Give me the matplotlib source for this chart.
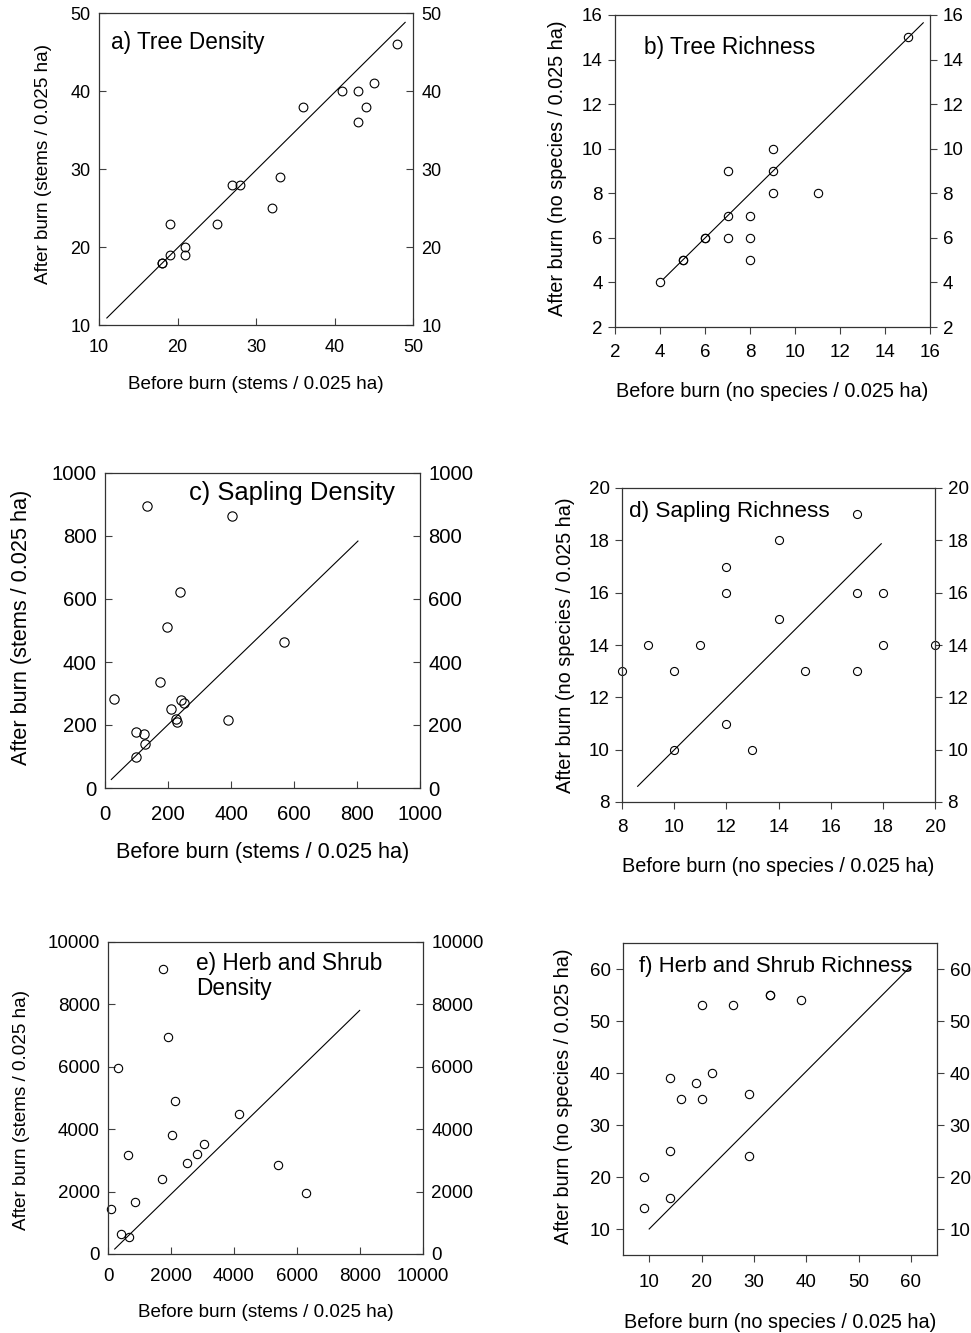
import matplotlib
matplotlib.use("Agg")
import matplotlib.pyplot as plt

plt.rcParams['font.family'] = ['Liberation Sans', 'DejaVu Sans']

# a) tree density
tree_den_before = [48, 41, 43, 45, 44, 43, 36, 33, 32, 27, 28, 25, 19, 21, 21, 19, 18, 18]
tree_den_after = [46, 40, 40, 41, 38, 36, 38, 29, 25, 28, 28, 23, 23, 20, 19, 19, 18, 18]
tree_den_line_x = [11, 49]
tree_den_line_y = [10.9, 48.8]

# b) tree richness
tree_rich_before = [15, 4, 5, 5, 6, 6, 7, 7, 7, 8, 8, 8, 9, 9, 9, 11]
tree_rich_after = [15, 4, 5, 5, 6, 6, 7, 9, 6, 7, 6, 5, 10, 9, 8, 8]
tree_rich_line_x = [4.15, 15.7]
tree_rich_line_y = [4.15, 15.65]

# c) sapling density
sap_den_before = [134, 403, 239, 196, 569, 176, 29, 211, 240, 250, 225, 230, 389, 98, 123, 126, 99]
sap_den_after = [896, 862, 621, 511, 463, 336, 284, 250, 278, 270, 218, 211, 215, 178, 172, 139, 97]
sap_den_line_x = [20, 803]
sap_den_line_y = [27, 784]

# d) sapling richness
sap_rich_before = [17, 14, 12, 12, 17, 18, 14, 9, 11, 18, 20, 8, 10, 15, 17, 12, 10, 13]
sap_rich_after = [19, 18, 17, 16, 16, 16, 15, 14, 14, 14, 14, 13, 13, 13, 13, 11, 10, 10]
sap_rich_line_x = [8.6, 17.94]
sap_rich_line_y = [8.6, 17.87]

# e) herb and shrub density
herb_den_before = [1745, 1915, 319, 2138, 4160, 2021, 3032, 2819, 2511, 649, 1702, 5383, 6298, 851, 96, 415, 660]
herb_den_after = [9134, 6952, 5947, 4898, 4492, 3829, 3540, 3219, 2920, 3187, 2406, 2856, 1947, 1668, 1433, 631, 545]
herb_den_line_x = [213, 7989]
herb_den_line_y = [160, 7807]

# f) herb and shrub richness
herb_rich_before = [20, 26, 33, 33, 39, 14, 22, 19, 16, 20, 29, 14, 29, 9, 9, 14]
herb_rich_after = [53, 53, 55, 55, 54, 39, 40, 38, 35, 35, 36, 25, 24, 20, 14, 16]
herb_rich_line_x = [10, 60]
herb_rich_line_y = [10, 60.5]

STEMS_X = 'Before burn (stems / 0.025 ha)'
STEMS_Y = 'After burn (stems / 0.025 ha)'
SPP_X = 'Before burn (no species / 0.025 ha)'
SPP_Y = 'After burn (no species / 0.025 ha)'

W, H = 971, 1333
fig = plt.figure(figsize=(W / 100, H / 100), dpi=100)


def box(l, t, r, b):
    return [l / W, 1 - b / H, (r - l) / W, (b - t) / H]


panels = [
    dict(rect=box(99, 13, 413, 325), x=tree_den_before, y=tree_den_after,
         lx=tree_den_line_x, ly=tree_den_line_y, lim=(10, 50), ticks=range(10, 51, 10),
         title='a) Tree Density', tpos=(0.037, 0.904), tsize=16.3,
         xl=STEMS_X, yl=STEMS_Y, fs=13.6, ts=13, tdir='in', xpad=10,
         xlpos=(0.5, -0.192), ylpos=(-0.178, 0.516), ms=6.3),
    dict(rect=box(615, 15, 930, 327), x=tree_rich_before, y=tree_rich_after,
         lx=tree_rich_line_x, ly=tree_rich_line_y, lim=(2, 16), ticks=range(2, 17, 2),
         title='b) Tree Richness', tpos=(0.092, 0.897), tsize=16.3,
         xl=SPP_X, yl=SPP_Y, fs=14.3, ts=13.5, tdir='out', xpad=7.5,
         xlpos=(0.5, -0.208), ylpos=(-0.184, 0.51), ms=6.0),
    dict(rect=box(105, 473, 420, 788), x=sap_den_before, y=sap_den_after,
         lx=sap_den_line_x, ly=sap_den_line_y, lim=(0, 1000), ticks=range(0, 1001, 200),
         title='c) Sapling Density', tpos=(0.267, 0.937), tsize=18.4,
         xl=STEMS_X, yl=STEMS_Y, fs=15.6, ts=14.6, tdir='in', xpad=12.5,
         xlpos=(0.5, -0.206), ylpos=(-0.265, 0.511), ms=6.7),
    dict(rect=box(622, 488, 935, 802), x=sap_rich_before, y=sap_rich_after,
         lx=sap_rich_line_x, ly=sap_rich_line_y, lim=(8, 20), ticks=range(8, 21, 2),
         title='d) Sapling Richness', tpos=(0.022, 0.924), tsize=16.2,
         xl=SPP_X, yl=SPP_Y, fs=14.3, ts=13.5, tdir='out', xpad=7.5,
         xlpos=(0.5, -0.204), ylpos=(-0.182, 0.5), ms=5.8),
    dict(rect=box(108, 942, 423, 1254), x=herb_den_before, y=herb_den_after,
         lx=herb_den_line_x, ly=herb_den_line_y, lim=(0, 10000), ticks=range(0, 10001, 2000),
         title='e) Herb and Shrub\nDensity', tpos=(0.28, 0.891), tsize=16.3,
         xl=STEMS_X, yl=STEMS_Y, fs=13.6, ts=13.5, tdir='in', xpad=10,
         xlpos=(0.5, -0.189), ylpos=(-0.275, 0.46), ms=6.0),
    dict(rect=box(623, 943, 937, 1255), x=herb_rich_before, y=herb_rich_after,
         lx=herb_rich_line_x, ly=herb_rich_line_y, lim=(5, 65), ticks=range(10, 61, 10),
         title='f) Herb and Shrub Richness', tpos=(0.05, 0.926), tsize=15.9,
         xl=SPP_X, yl=SPP_Y, fs=14.3, ts=13.5, tdir='out', xpad=9,
         xlpos=(0.5, -0.215), ylpos=(-0.19, 0.51), ms=6.0),
]

for p in panels:
    ax = fig.add_axes(p['rect'])
    ax.plot(p['lx'], p['ly'], color='black', lw=0.8)
    ax.plot(p['x'], p['y'], linestyle='none', marker='o', ms=p['ms'],
            mfc='none', mec='black', mew=0.8, clip_on=False)
    ax.set_xlim(p['lim'])
    ax.set_ylim(p['lim'])
    ax.set_xticks(list(p['ticks']))
    ax.set_yticks(list(p['ticks']))
    ax.tick_params(direction=p['tdir'], length=5, width=0.8, color='0.25',
                   labelsize=p['ts'], pad=6 if p['tdir'] == 'in' else 4,
                   right=True, labelright=True)
    ax.tick_params(axis='x', pad=p['xpad'])
    for s in ax.spines.values():
        s.set_linewidth(0.9)
        s.set_color('0.2')
    ax.text(p['tpos'][0], p['tpos'][1], p['title'], transform=ax.transAxes,
            fontsize=p['tsize'], ha='left', va='center', linespacing=1.1)
    ax.set_xlabel(p['xl'], fontsize=p['fs'])
    ax.set_ylabel(p['yl'], fontsize=p['fs'])
    ax.xaxis.set_label_coords(*p['xlpos'])
    ax.yaxis.set_label_coords(*p['ylpos'])
    ax.xaxis.label.set_va('center')
    ax.yaxis.label.set_va('center')

fig.savefig('out.png', dpi=100)
